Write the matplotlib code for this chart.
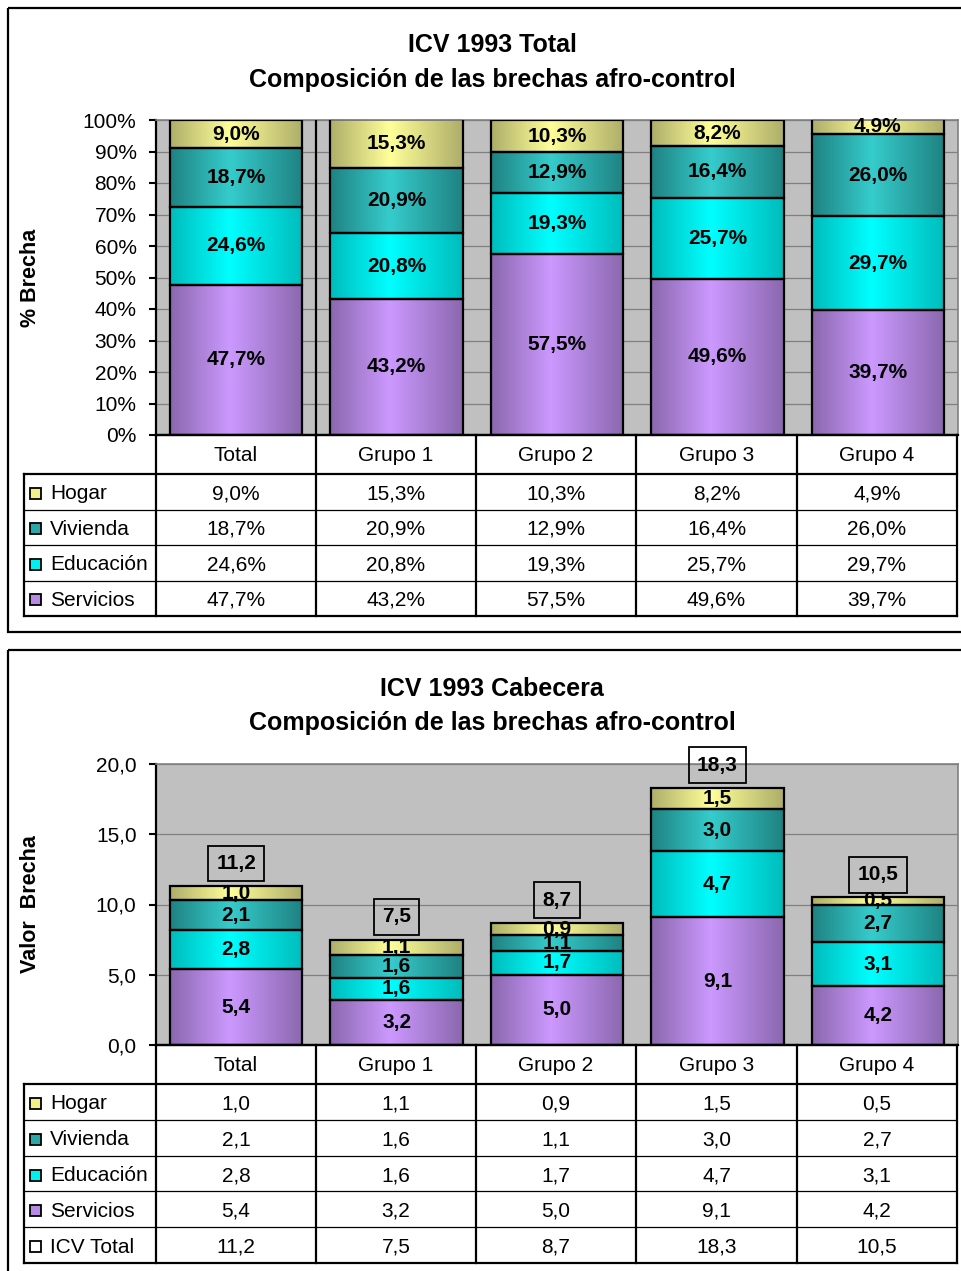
import matplotlib as mpl
mpl.use('Agg')
import matplotlib.pyplot as plt
from matplotlib.colors import LinearSegmentedColormap
from matplotlib.patches import Rectangle
import numpy as np

plt.rcParams['font.family'] = ['Liberation Sans', 'DejaVu Sans']

# ---- data ----
categories = ['Total', 'Grupo 1', 'Grupo 2', 'Grupo 3', 'Grupo 4']

# top chart: share of the gap (%)
pct_servicios = [47.7, 43.2, 57.5, 49.6, 39.7]
pct_educacion = [24.6, 20.8, 19.3, 25.7, 29.7]
pct_vivienda = [18.7, 20.9, 12.9, 16.4, 26.0]
pct_hogar = [9.0, 15.3, 10.3, 8.2, 4.9]

# bottom chart: gap value
val_servicios = [5.4, 3.2, 5.0, 9.1, 4.2]
val_educacion = [2.8, 1.6, 1.7, 4.7, 3.1]
val_vivienda = [2.1, 1.6, 1.1, 3.0, 2.7]
val_hogar = [1.0, 1.1, 0.9, 1.5, 0.5]
val_total = [11.2, 7.5, 8.7, 18.3, 10.5]

# (edge, centre) colours for the Excel-like gradient fill
grad_colors = {
    'Servicios': ('#8a68ae', '#cc99ff'),
    'Educación': ('#00bcbc', '#00ffff'),
    'Vivienda': ('#1f8282', '#36cccc'),
    'Hogar': ('#aeae6a', '#ffff99'),
}

W, H = 961, 1271
fig = plt.figure(figsize=(W / 100, H / 100), dpi=100)
FS = 15


def fig_axes(x0, y0, x1, y1):
    # pixel box (y from top) -> figure fraction
    return fig.add_axes([x0 / W, 1 - y1 / H, (x1 - x0) / W, (y1 - y0) / H])


def fmt(v, pct=False):
    s = f"{v:.1f}".replace('.', ',')
    return s + '%' if pct else s


def grad_fill(ax, rect, name):
    c0, c1 = grad_colors[name]
    cmap = LinearSegmentedColormap.from_list(name, [c0, c1, c0])
    t = np.linspace(0, 1, 200)
    # lightest part a bit left of the centre
    g = np.where(t < 0.45, t / 0.45 * 0.5, 0.5 + (t - 0.45) / 0.55 * 0.5)
    x0, y0 = rect.get_x(), rect.get_y()
    im = ax.imshow(g[np.newaxis, :], cmap=cmap, vmin=0, vmax=1, aspect='auto',
                   extent=(x0, x0 + rect.get_width(), y0, y0 + rect.get_height()),
                   interpolation='bilinear', zorder=2)
    im.set_clip_path(rect)


def stacked(ax, data, pct, ymax, step, totals=None):
    x = np.arange(len(categories))
    bottom = np.zeros(len(categories))
    for name, vals in data:
        vals = np.array(vals)
        bars = ax.bar(x, vals, 0.825, bottom=bottom, facecolor='none',
                      edgecolor='black', linewidth=1.6, zorder=3)
        for rect in bars:
            grad_fill(ax, rect, name)
        for xi, b, v in zip(x, bottom, vals):
            ax.text(xi, b + v / 2, fmt(v, pct), ha='center', va='center',
                    fontsize=FS, fontweight='bold', zorder=4)
        bottom = bottom + vals
    if totals is not None:
        for xi, top, t in zip(x, bottom, totals):
            ax.annotate(fmt(t), (xi, top), xytext=(0, 9.5), textcoords='offset points',
                        ha='center', va='bottom', fontsize=FS, fontweight='bold',
                        zorder=5, annotation_clip=False,
                        bbox=dict(boxstyle='square,pad=0.4', fc='none', ec='black', lw=1.3))
    ax.set_xlim(-0.5, len(categories) - 0.5)
    ax.set_ylim(0, ymax)
    ax.set_facecolor('#c0c0c0')
    ticks = np.arange(0, ymax + step / 2, step)
    ax.set_yticks(ticks)
    if pct:
        ax.set_yticklabels([f"{int(t)}%" for t in ticks])
    else:
        ax.set_yticklabels([fmt(t) for t in ticks])
    ax.set_xticks([])
    ax.yaxis.grid(True, color='#808080', linewidth=0.9, zorder=1)
    ax.set_axisbelow(True)
    ax.tick_params(axis='y', length=5, width=1.5, pad=9, labelsize=FS)
    for s in ['top', 'right']:
        ax.spines[s].set_color('#808080')
        ax.spines[s].set_linewidth(1.2)
    for s in ['left', 'bottom']:
        ax.spines[s].set_linewidth(1.6)


# ---- top chart ----
ax1 = fig_axes(156, 120, 958, 435)
stacked(ax1, [('Servicios', pct_servicios), ('Educación', pct_educacion),
              ('Vivienda', pct_vivienda), ('Hogar', pct_hogar)], True, 100, 10)
ax1.axvline(0.5, color='black', linewidth=1.6, zorder=3)
ax1.set_ylabel('% Brecha', fontsize=15.5, fontweight='bold')
ax1.yaxis.set_label_coords(-0.143, 0.5)

# ---- bottom chart ----
ax2 = fig_axes(156, 764, 958, 1045)
stacked(ax2, [('Servicios', val_servicios), ('Educación', val_educacion),
              ('Vivienda', val_vivienda), ('Hogar', val_hogar)], False, 20, 5, val_total)
ax2.set_ylabel('Valor  Brecha', fontsize=15.5, fontweight='bold')
ax2.yaxis.set_label_coords(-0.143, 0.5)

# ---- overlay: frames, titles, data tables (pixel coordinates) ----
ov = fig.add_axes([0, 0, 1, 1], zorder=10)
ov.set_xlim(0, W)
ov.set_ylim(H, 0)
ov.axis('off')
ov.patch.set_alpha(0)

ov.add_patch(Rectangle((8, 8), 970, 624, fill=False, ec='black', lw=1.6))
ov.add_patch(Rectangle((8, 650), 970, 640, fill=False, ec='black', lw=1.6))

ov.text(492, 45, 'ICV 1993 Total', ha='center', va='center', fontsize=18, fontweight='bold')
ov.text(492, 80, 'Composición de las brechas afro-control', ha='center', va='center',
        fontsize=18, fontweight='bold')
ov.text(492, 689, 'ICV 1993 Cabecera', ha='center', va='center', fontsize=18, fontweight='bold')
ov.text(492, 723, 'Composición de las brechas afro-control', ha='center', va='center',
        fontsize=18, fontweight='bold')

col_edges = [156, 316, 476, 636, 797, 957]
col_mid = [(a + b) / 2 for a, b in zip(col_edges[:-1], col_edges[1:])]


def data_table(y_top, row_h, row_items):
    head_bot = y_top + 39
    y_bot = head_bot + row_h * len(row_items)
    lw = 1.6
    ov.plot([156, 957], [y_top, y_top], color='black', lw=lw)
    for cx in col_edges:
        ov.plot([cx, cx], [y_top, y_bot], color='black', lw=lw)
    for cx, c in zip(col_mid, categories):
        ov.text(cx, (y_top + head_bot) / 2 + 1, c, ha='center', va='center', fontsize=FS)
    ov.plot([24, 957], [head_bot, head_bot], color='black', lw=lw)
    ov.plot([24, 957], [y_bot, y_bot], color='black', lw=lw)
    ov.plot([24, 24], [head_bot, y_bot], color='black', lw=lw)
    for i, (name, vals, key, pct) in enumerate(row_items):
        yc = head_bot + row_h * (i + 0.5)
        if i > 0:
            ov.plot([24, 955], [head_bot + row_h * i] * 2, color='black', lw=0.9)
        ov.add_patch(Rectangle((30, yc - 4), 11, 11, fc=key, ec='black', lw=1.3))
        ov.text(50, yc + 2, name, ha='left', va='center', fontsize=FS)
        for cx, v in zip(col_mid, vals):
            ov.text(cx, yc + 2, fmt(v, pct), ha='center', va='center', fontsize=FS)


data_table(435, 35.5, [
    ('Hogar', pct_hogar, '#f0f08a', True),
    ('Vivienda', pct_vivienda, '#2aa8a8', True),
    ('Educación', pct_educacion, '#00f0f0', True),
    ('Servicios', pct_servicios, '#b78ae6', True),
])
data_table(1045, 35.8, [
    ('Hogar', val_hogar, '#f0f08a', False),
    ('Vivienda', val_vivienda, '#2aa8a8', False),
    ('Educación', val_educacion, '#00f0f0', False),
    ('Servicios', val_servicios, '#b78ae6', False),
    ('ICV Total', val_total, 'white', False),
])

fig.savefig('out.png', dpi=100)
